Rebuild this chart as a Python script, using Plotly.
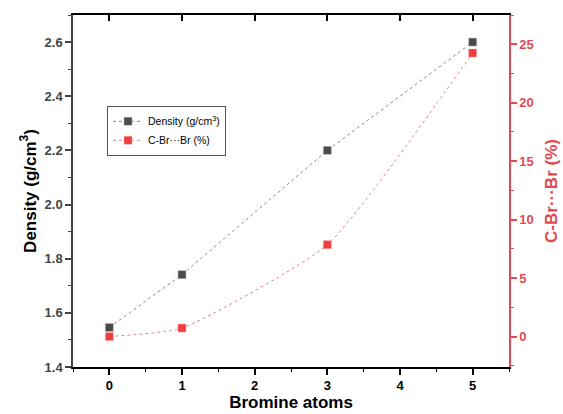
import plotly.graph_objects as go

bromine_atoms = [0, 1, 3, 5]
density = [1.546, 1.741, 2.200, 2.600]
cbr_percent = [0.0, 0.73, 7.86, 24.25]

x_ticks = [0, 1, 2, 3, 4, 5]
y_left_ticks = [1.4, 1.6, 1.8, 2.0, 2.2, 2.4, 2.6]
y_right_ticks = [0, 5, 10, 15, 20, 25]

BLACK = "#4a4a4a"
RED = "#f03c3c"
RED_AX = "#e04a50"
FONT = "Arial, Liberation Sans, sans-serif"

fig = go.Figure()
fig.add_trace(go.Scatter(
    x=bromine_atoms, y=density, name="Density (g/cm<sup>3</sup>)",
    mode="lines+markers",
    line=dict(color="#8a8a8a", width=1, dash="dot"),
    marker=dict(symbol="square", size=8, color=BLACK, line=dict(color="#bbbbbb", width=0.5)),
))
fig.add_trace(go.Scatter(
    x=bromine_atoms, y=cbr_percent, name="C-Br···Br (%)", yaxis="y2",
    mode="lines+markers",
    line=dict(color="#e08585", width=1, dash="dot", shape="spline", smoothing=0.5),
    marker=dict(symbol="square", size=8, color=RED, line=dict(color="#f5aaaa", width=0.5)),
))
# invisible trace for the top axis
fig.add_trace(go.Scatter(x=[0], y=[2.0], xaxis="x2", mode="markers",
                         marker=dict(opacity=0), showlegend=False, hoverinfo="skip"))

fig.update_layout(
    width=563, height=414,
    margin=dict(l=73, r=54, t=15, b=47, autoexpand=False),
    paper_bgcolor="white", plot_bgcolor="white",
    font=dict(family=FONT, color="black"),
    showlegend=True,
    legend=dict(x=0.078, y=0.742, xanchor="left", yanchor="top",
                bordercolor="#555555", borderwidth=1, bgcolor="white",
                font=dict(size=10.5, family=FONT, color="black"),
                tracegroupgap=0, itemwidth=30),
    xaxis=dict(
        range=[-0.5, 5.5], tickvals=x_ticks, ticktext=[str(v) for v in x_ticks],
        automargin=False,
        showgrid=False, zeroline=False, showline=True, linecolor="black", linewidth=1.5,
        ticks="outside", ticklen=6, tickwidth=1.5, tickcolor="black",
        minor=dict(dtick=0.5, tick0=0, ticks="outside", ticklen=3, tickcolor="black", tickwidth=1),
        tickfont=dict(size=13, family=FONT, color="black", weight="bold"),
        title=dict(text="<b>Bromine atoms</b>", font=dict(size=17, color="black"), standoff=4),
    ),
    xaxis2=dict(
        range=[-0.5, 5.5], overlaying="x", side="top", tickvals=x_ticks,
        automargin=False,
        showticklabels=False, showgrid=False, zeroline=False,
        showline=True, linecolor="black", linewidth=1.5,
        ticks="inside", ticklen=6, tickwidth=1.5, tickcolor="black",
    ),
    yaxis=dict(
        range=[1.4, 2.7], tickvals=y_left_ticks, ticktext=["%.1f" % v for v in y_left_ticks],
        automargin=False,
        showgrid=False, zeroline=False, showline=True, linecolor="#444444", linewidth=1.5,
        ticks="outside", ticklen=6, tickwidth=1.5, tickcolor="#444444",
        minor=dict(dtick=0.1, tick0=1.4, ticks="outside", ticklen=3, tickcolor="#444444", tickwidth=1),
        tickfont=dict(size=13, family=FONT, color="#444444", weight="bold"),
        title=dict(text="<b>Density (g/cm<sup>3</sup>)</b>", font=dict(size=17, color="black"), standoff=4),
    ),
    yaxis2=dict(
        range=[-2.6, 27.5], overlaying="y", side="right", anchor="x",
        automargin=False,
        tickvals=y_right_ticks, ticktext=[str(v) for v in y_right_ticks],
        showgrid=False, zeroline=False, showline=True, linecolor=RED_AX, linewidth=1.5,
        ticks="outside", ticklen=6, tickwidth=1.5, tickcolor=RED_AX,
        minor=dict(dtick=2.5, tick0=0, ticks="outside", ticklen=3, tickcolor=RED_AX, tickwidth=1),
        tickfont=dict(size=13, family=FONT, color=RED_AX, weight="bold"),
        title=dict(text="<b>C-Br···Br (%)</b>", font=dict(size=17, color=RED_AX), standoff=12),
    ),
)

fig.write_html("out.html", config={"displayModeBar": False},
               post_script="document.body.style.margin='0';document.body.style.padding='0';")
